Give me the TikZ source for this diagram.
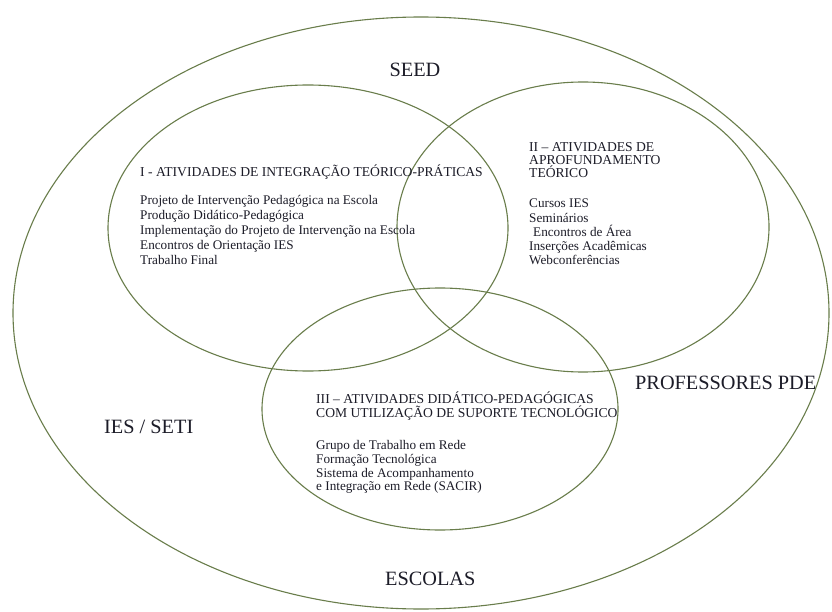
\documentclass[tikz,border=0pt]{standalone}
\usepackage{fontspec}
\setmainfont{Liberation Serif}
\definecolor{vennline}{RGB}{105,125,75}
\definecolor{txt}{RGB}{28,28,40}
\begin{document}
\begin{tikzpicture}[x=1pt,y=-1pt,
  ring/.style={draw=vennline,line width=1.1pt},
  body/.style={font=\fontsize{13.2}{15}\selectfont,text=txt,anchor=base west,inner sep=0pt},
  head/.style={font=\fontsize{13.6}{15}\selectfont,text=txt,anchor=base west,inner sep=0pt},
  big/.style={font=\fontsize{20.3}{24}\selectfont,text=txt,anchor=base west,inner sep=0pt}]
\useasboundingbox[fill=white] (0,0) rectangle (832,612);
% ellipses
\draw[ring] (421,313) ellipse [x radius=408pt, y radius=296pt];
\draw[ring] (308,228) ellipse [x radius=200pt, y radius=143pt];
\draw[ring] (583,227) ellipse [x radius=186pt, y radius=145pt];
\draw[ring] (440,409) ellipse [x radius=178pt, y radius=121pt];
% outer labels
\node[big,anchor=base] (seed) at (415,77) {SEED};
\node[big] (prof) at (635,389) {PROFESSORES PDE};
\node[big] (ies) at (104,433) {IES / SETI};
\node[big] (esc) at (385,585) {ESCOLAS};
% block I
\node[head] (a0) at (140,177) {I - ATIVIDADES DE INTEGRAÇÃO TEÓRICO-PRÁTICAS};
\node[body] (a1) at (140,205) {Projeto de Intervenção Pedagógica na Escola};
\node[body] (a2) at (140,220) {Produção Didático-Pedagógica};
\node[body] (a3) at (140,235) {Implementação do Projeto de Intervenção na Escola};
\node[body] (a4) at (140,250) {Encontros de Orientação IES};
\node[body] (a5) at (140,265) {Trabalho Final};
% block II
\node[head] (b0) at (529,152) {II – ATIVIDADES DE};
\node[head] (b1) at (529,165) {APROFUNDAMENTO};
\node[head] (b2) at (529,178) {TEÓRICO};
\node[body] (b3) at (529,208) {Cursos IES};
\node[body] (b4) at (529,223) {Seminários};
\node[body] (b5) at (533,237) {Encontros de Área};
\node[body] (b6) at (529,251) {Inserções Acadêmicas};
\node[body] (b7) at (529,265) {Webconferências};
% block III
\node[head] (c0) at (316,403) {III – ATIVIDADES DIDÁTICO-PEDAGÓGICAS};
\node[head] (c1) at (316,417) {COM UTILIZAÇÃO DE SUPORTE TECNOLÓGICO};
\node[body] (c2) at (316,449) {Grupo de Trabalho em Rede};
\node[body] (c3) at (316,463) {Formação Tecnológica};
\node[body] (c4) at (316,477) {Sistema de Acompanhamento};
\node[body] (c5) at (316,490) {e Integração em Rede (SACIR)};
\end{tikzpicture}
\end{document}
